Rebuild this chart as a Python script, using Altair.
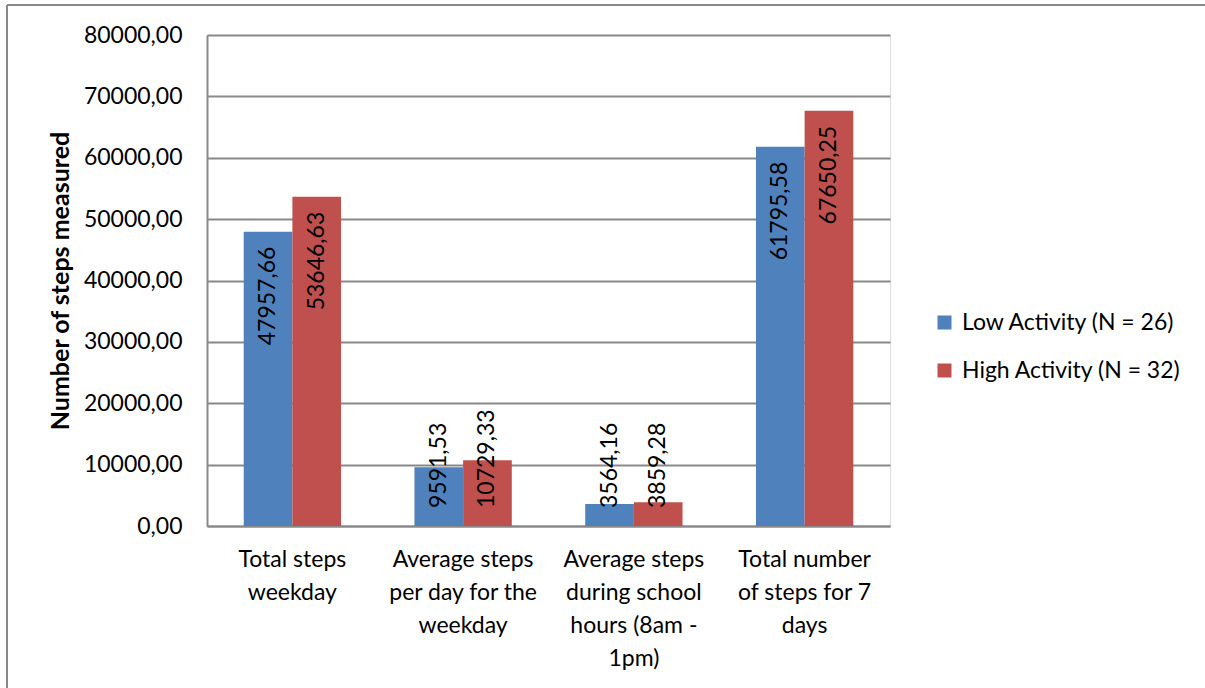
import altair as alt
import pandas as pd

# Step counts per measure and activity group
categories = [
    "Total steps|weekday",
    "Average steps|per day for the|weekday",
    "Average steps|during school|hours (8am -|1pm)",
    "Total number|of steps for 7|days",
]
groups = ["Low Activity (N = 26)", "High Activity (N = 32)"]
low_activity = [47957.66, 9591.53, 3564.16, 61795.58]
high_activity = [53646.63, 10729.33, 3859.28, 67650.25]
y_ticks = [0, 10000, 20000, 30000, 40000, 50000, 60000, 70000, 80000]
colors = ["#4F81BD", "#C0504D"]

rows = []
for cat, lo, hi in zip(categories, low_activity, high_activity):
    for grp, val in zip(groups, [lo, hi]):
        rows.append({
            "category": cat,
            "group": grp,
            "value": val,
            "label": f"{val:.2f}".replace(".", ","),
        })
df = pd.DataFrame(rows)

FONT = "Lato"
GRAY = "#898989"
FS = 23

base = alt.Chart(df).encode(
    x=alt.X(
        "category:N",
        sort=categories,
        scale=alt.Scale(paddingInner=0.43, paddingOuter=0.215),
        axis=alt.Axis(
            title=None,
            labelAngle=0,
            labelExpr="split(datum.label, '|')",
            labelFontSize=FS,
            labelLineHeight=33,
            labelPadding=22,
            labelColor="#000000",
            labelFont=FONT,
            ticks=False,
            domainColor=GRAY,
            domainWidth=2,
        ),
    ),
    xOffset=alt.XOffset("group:N", sort=groups,
                        scale=alt.Scale(paddingInner=0, paddingOuter=0)),
)

bars = base.mark_bar().encode(
    y=alt.Y(
        "value:Q",
        scale=alt.Scale(domain=[0, 80000], nice=False),
        axis=alt.Axis(
            title="Number of steps measured",
            titleFont=FONT,
            titleFontSize=25,
            titleFontWeight="bold",
            titleColor="#000000",
            titlePadding=10,
            values=y_ticks,
            labelExpr="replace(format(datum.value, '.2f'), '.', ',')",
            labelFontSize=FS,
            labelFont=FONT,
            labelColor="#000000",
            labelPadding=25,
            ticks=False,
            grid=True,
            gridColor=GRAY,
            gridWidth=2,
            domainColor=GRAY,
            domainWidth=2,
        ),
    ),
    color=alt.Color(
        "group:N",
        sort=groups,
        scale=alt.Scale(domain=groups, range=colors),
        legend=alt.Legend(
            title=None,
            orient="none",
            legendX=726,
            legendY=276,
            symbolType="square",
            symbolSize=196,
            symbolStrokeWidth=0,
            labelFontSize=FS,
            labelFont=FONT,
            labelColor="#000000",
            labelOffset=6,
            labelLimit=0,
            rowPadding=24,
        ),
    ),
)

# Labels that fit inside the bar sit just below its top
inside = base.transform_filter("datum.value > 20000").mark_text(
    angle=270, align="right", baseline="middle", dx=-15,
    fontSize=FS, font=FONT, color="#000000",
).encode(y="value:Q", text="label:N")

# Labels of short bars start near the baseline and run upward
outside = base.transform_filter("datum.value <= 20000").mark_text(
    angle=270, align="left", baseline="middle", dx=18,
    fontSize=FS, font=FONT, color="#000000",
).encode(y=alt.datum(0), text="label:N")

frame_data = alt.Data(values=[{}])
top_edge = alt.Chart(frame_data).mark_rule(color=GRAY, strokeWidth=2).encode(
    x=alt.value(-200), x2=alt.value(998), y=alt.value(-30)
)
left_edge = alt.Chart(frame_data).mark_rule(color=GRAY, strokeWidth=2).encode(
    x=alt.value(-200), y=alt.value(-30), y2=alt.value(653)
)

chart = alt.layer(bars, inside, outside, top_edge, left_edge).properties(
    width=683,
    height=491,
    autosize=alt.AutoSizeParams(type="none"),
    padding={"left": 207, "top": 35, "right": 315, "bottom": 162},
).configure_view(stroke=None).configure(background="#ffffff")

chart.save("out.html", embed_options={"renderer": "svg", "actions": False})
